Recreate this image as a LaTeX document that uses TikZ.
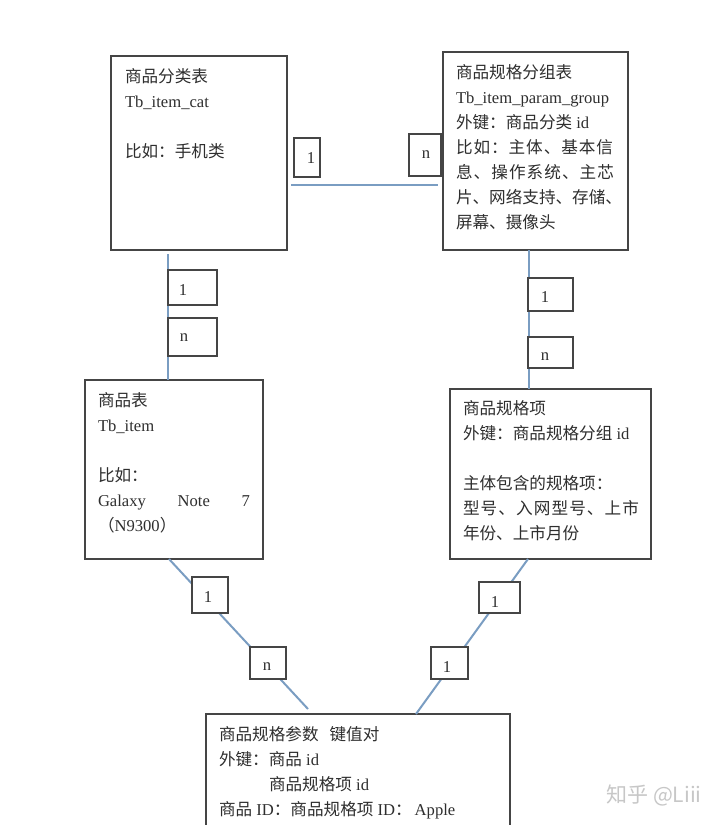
\documentclass[tikz,border=0pt]{standalone}
\usepackage{fontspec}
\setmainfont{Liberation Serif}
\newfontfamily\cjk{Noto Sans CJK SC}
\newcommand{\zh}[1]{{\cjk #1}}
\newcommand{\tblbody}[5]{\parbox[c][#2pt][t]{#1pt}{\fontsize{16.6}{25}\selectfont\raggedright\leftskip=#3pt\relax\rule{0pt}{#4pt}#5}}
% text of a tag: horizontal centre offset, baseline offset below the tag's centre, text
\newcommand{\tagtxt}[3]{\makebox[0pt]{\hspace*{\dimexpr 2\dimexpr #1pt\relax\relax}\smash{\raisebox{-#2pt}{#3}}}}
\definecolor{inkc}{HTML}{2E2E2E}
\definecolor{edgec}{HTML}{454545}
\definecolor{linkc}{HTML}{7A9DC2}
\tikzset{
  entity/.style={draw=edgec,line width=1.5pt,fill=white,inner sep=0pt,outer sep=0pt,anchor=north west,text=inkc},
  tag/.style={draw=edgec,line width=1.3pt,fill=white,inner sep=0pt,outer sep=0pt,text=inkc,font=\fontsize{16.6}{20}\selectfont},
  link/.style={draw=linkc,line width=2pt}
}
\begin{document}
\begin{tikzpicture}[x=1pt,y=-1pt]
\useasboundingbox (0,0) rectangle (720,825);
\fill[white] (0,0) rectangle (720,825);
\clip (0,0) rectangle (720,825);

% entity boxes
\node[entity] (cat) at (111,56) {\tblbody{176}{194}{14}{26}{\zh{商品分类表}\\Tb\_item\_cat\\\mbox{}\\\zh{比如：手机类}}};
\node[entity] (group) at (443,52) {\tblbody{185}{198}{13}{26}{\zh{商品规格分组表}\\Tb\_item\_param\_group\\\zh{外键：商品分类} id\\\makebox[157pt][s]{\zh{比\hfil 如\hfil ：\hfil 主\hfil 体\hfil 、\hfil 基\hfil 本\hfil 信}}\\\makebox[158pt][s]{\zh{息\hfil 、\hfil 操\hfil 作\hfil 系\hfil 统\hfil 、\hfil 主\hfil 芯}}\\\zh{片、网络支持、存储、}\\\zh{屏幕、摄像头}}};
\node[entity] (item) at (85,380) {\tblbody{178}{179}{13}{26}{\zh{商品表}\\Tb\_item\\\mbox{}\\\zh{比如：}\\\makebox[152pt][s]{Galaxy\hfil Note\hfil 7}\\\zh{（}N9300\zh{）}}};
\node[entity] (spec) at (450,389) {\tblbody{201}{170}{13}{25}{\zh{商品规格项}\\\zh{外键：商品规格分组} id\\\mbox{}\\\zh{主体包含的规格项：}\\\makebox[176pt][s]{\zh{型\hfil 号\hfil 、\hfil 入\hfil 网\hfil 型\hfil 号\hfil 、\hfil 上\hfil 市}}\\\zh{年份、上市月份}}};
\node[entity] (kv) at (206,714) {\tblbody{304}{140}{13}{26}{\zh{商品规格参数}\hspace{11pt}\zh{键值对}\\\zh{外键：商品} id\\\hspace*{50pt}\zh{商品规格项} id\\\zh{商品} ID\zh{：商品规格项} ID\zh{：}\hspace{3pt}Apple}};

% free ends and attachment points
\coordinate (hA) at (291,185);
\coordinate (hB) at (438,185);
\coordinate (vA) at (168,254);
\coordinate (vB) at (529,250);
\coordinate (dA) at (169,559);
\coordinate (dB) at (308,709);
\coordinate (eA) at (528,559);
\coordinate (eB) at (416,714);

% connectors
\draw[link] (hA) -- (hB);
\draw[link] (vA) -- (vA |- item.north);
\draw[link] (vB |- group.south) -- (vB |- spec.north);
\draw[link] (dA |- item.south) -- (dB);
\draw[link] (eA |- spec.south) -- (eB |- kv.north);

% multiplicity tags
\node[tag,minimum width=26pt,minimum height=39pt] (t1) at (307,157.5) {\tagtxt{4}{6}{1}};
\node[tag,minimum width=32pt,minimum height=42pt] (t2) at (425,155) {\tagtxt{1}{3.75}{n}};
\node[tag,minimum width=49pt,minimum height=35pt] (t3) at (192.5,287.5) {\tagtxt{-9.5}{8}{1}};
\node[tag,minimum width=49pt,minimum height=38pt] (t4) at (192.5,337) {\tagtxt{-8.5}{4.75}{n}};
\node[tag,minimum width=45pt,minimum height=33pt] (t5) at (550.5,294.5) {\tagtxt{-5.5}{8}{1}};
\node[tag,minimum width=45pt,minimum height=31pt] (t6) at (550.5,352.5) {\tagtxt{-5.5}{8.25}{n}};
\node[tag,minimum width=36pt,minimum height=36pt] (t7) at (210,595) {\tagtxt{-2}{7.5}{1}};
\node[tag,minimum width=36pt,minimum height=32pt] (t8) at (268,663) {\tagtxt{-1}{7.75}{n}};
\node[tag,minimum width=41pt,minimum height=31pt] (t9) at (499.5,597.5) {\tagtxt{-4.5}{10}{1}};
\node[tag,minimum width=37pt,minimum height=32pt] (t10) at (449.5,663) {\tagtxt{-2.5}{9.5}{1}};

% watermark
\node[text=black!22,font=\fontsize{21}{25}\selectfont] (mark) at (654,795) {\zh{知乎 @Liii}};
\end{tikzpicture}
\end{document}
